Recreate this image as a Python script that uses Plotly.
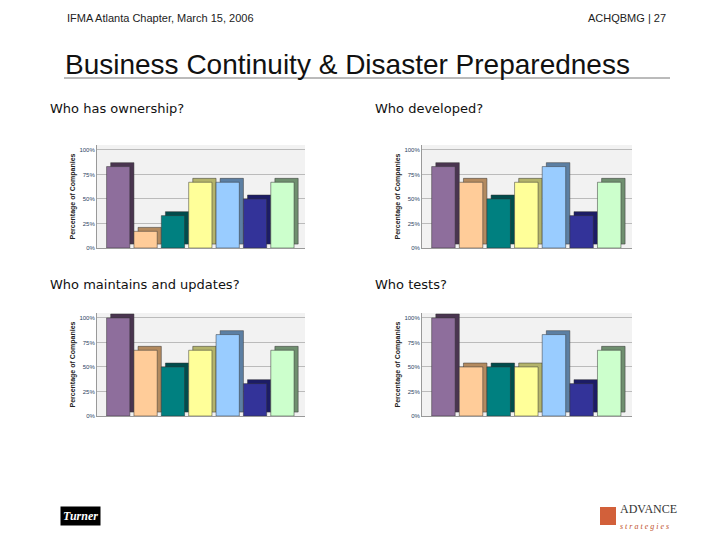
import plotly.graph_objects as go

colors = ["#8e6e9c", "#ffcc99", "#008080", "#ffff99", "#99ccff", "#333399", "#ccffcc"]
sides = ["#4a3550", "#b38a5f", "#004c4c", "#b3b36b", "#5c7fa3", "#1c1c66", "#6f8f6f"]
own = [83, 17, 33, 67, 67, 50, 67]
developed = [83, 67, 50, 67, 83, 33, 67]
maintains = [100, 67, 50, 67, 83, 33, 67]
tests = [100, 50, 50, 50, 83, 33, 67]
titles = ["Who has ownership?", "Who developed?", "Who maintains and updates?", "Who tests?"]
ticks = ["0%", "25%", "50%", "75%", "100%"]

W, H = 720, 540
OFF = 8  # page body margin


def px(x):
    return (x - OFF) / W


def py(y):
    return 1 - (y - OFF) / H


panels = [
    (own, (97, 305), (145, 248), (48, 109)),
    (developed, (422, 632), (145, 248), (373, 109)),
    (maintains, (97, 305), (313, 416), (48, 284)),
    (tests, (422, 632), (313, 416), (373, 284)),
]

fig = go.Figure()
for i, (vals, (x0, x1), (y0, y1), (tx, ty)) in enumerate(panels):
    n = "" if i == 0 else str(i + 1)
    xa, ya = "x" + n, "y" + n
    # depth face behind the bar
    fig.add_trace(go.Bar(x=list(range(7)), y=vals, base=[4] * 7, width=0.85, offset=-0.3,
                         marker=dict(color=sides, line=dict(color="#333", width=0.5)),
                         xaxis=xa, yaxis=ya, showlegend=False, hoverinfo="skip"))
    fig.add_trace(go.Bar(x=list(range(7)), y=vals, width=0.85, offset=-0.45,
                         marker=dict(color=colors, line=dict(color="#333", width=0.5)),
                         xaxis=xa, yaxis=ya, showlegend=False))
    fig.layout["xaxis" + n] = dict(domain=[px(x0), px(x1)], anchor=ya, range=[-0.8, 6.8],
                                   showticklabels=False, showgrid=False, zeroline=False,
                                   showline=True, linecolor="#999", automargin=False)
    fig.layout["yaxis" + n] = dict(domain=[py(y1), py(y0)], anchor=xa, range=[0, 105],
                                   tickvals=[0, 25, 50, 75, 100], ticktext=ticks, automargin=False,
                                   tickfont=dict(size=6, family="Arial"), gridcolor="#bbb",
                                   showline=True, linecolor="#999", zeroline=False,
                                   title=dict(text="<b>Percentage of Companies</b>",
                                              font=dict(size=7, family="Arial", color="#222"), standoff=2))
    fig.add_annotation(text=titles[i], x=px(tx), y=py(ty), xref="paper", yref="paper",
                       xanchor="left", yanchor="middle", showarrow=False,
                       font=dict(size=13, family="DejaVu Sans", color="#111"))

fig.add_annotation(text="IFMA Atlanta Chapter, March 15, 2006", x=px(65), y=py(18),
                   xref="paper", yref="paper", xanchor="left", yanchor="middle", showarrow=False,
                   font=dict(size=11, family="Arial", color="#222"))
fig.add_annotation(text="ACHQBMG | 27", x=px(668), y=py(18), xref="paper", yref="paper",
                   xanchor="right", yanchor="middle", showarrow=False,
                   font=dict(size=11, family="Arial", color="#222"))
fig.add_annotation(text="Business Continuity &amp; Disaster Preparedness", x=px(63), y=py(65),
                   xref="paper", yref="paper", xanchor="left", yanchor="middle", showarrow=False,
                   font=dict(size=28, family="Arial", color="#111"))
fig.add_shape(type="line", x0=px(64), x1=px(670), y0=py(78), y1=py(78),
              xref="paper", yref="paper", line=dict(color="#777", width=1))
fig.add_annotation(text="<b><i>Turner</i></b>", x=px(60), y=py(516), xref="paper", yref="paper",
                   yanchor="middle", showarrow=False, bgcolor="black",
                   font=dict(size=12, color="white", family="Arial Black"), borderpad=2)
fig.add_shape(type="rect", x0=px(600), x1=px(616), y0=py(525), y1=py(507),
              xref="paper", yref="paper", fillcolor="#d2603a", line=dict(width=0))
fig.add_annotation(text="ADVANCE<br><span style='font-size:8px;color:#c0502a'><i>s t r a t e g i e s</i></span>",
                   x=px(618), y=py(516), xref="paper", yref="paper", xanchor="left", yanchor="middle",
                   showarrow=False, align="left", font=dict(size=12, family="Liberation Serif", color="#333"))

fig.update_layout(width=W, height=H, margin=dict(l=0, r=0, t=0, b=0, autoexpand=False), barmode="overlay",
                  plot_bgcolor="#f2f2f2", paper_bgcolor="white")
fig.write_html("out.html")
